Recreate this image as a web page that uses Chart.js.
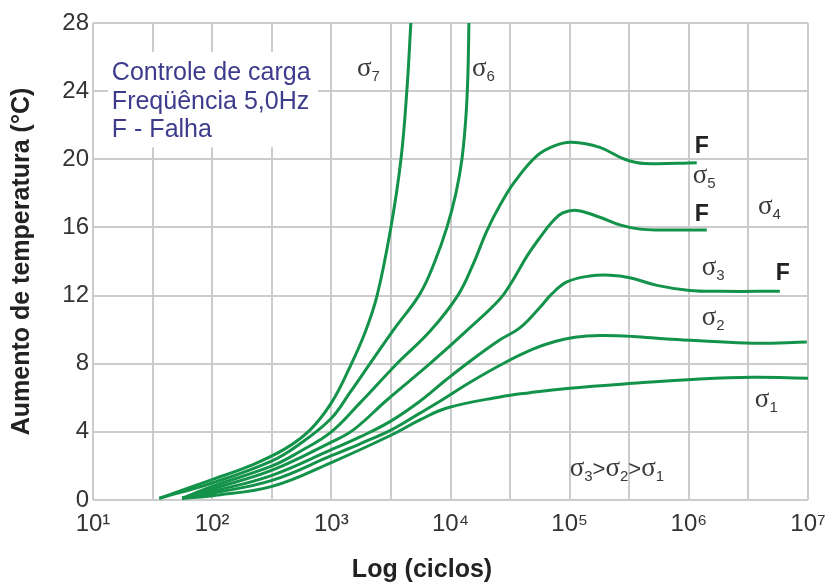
<!DOCTYPE html>
<html>
<head>
<meta charset="utf-8">
<script src="https://cdn.jsdelivr.net/npm/chart.js@4"></script>
<style>
  html, body { margin: 0; padding: 0; background: #fff; }
  #wrap { width: 827px; height: 583px; }
</style>
</head>
<body>
<div id="wrap"><canvas id="chart"></canvas></div>
<script>
// curves: cycles (log axis) vs temperature rise (°C)
const s7Cycles = [36, 100, 207, 408, 661, 1000, 1430, 1910, 2420, 3160, 3840, 4300, 4650];
const s7Temp   = [0.1, 1.2, 2.0, 3.0, 4.1, 5.7, 7.8, 9.8, 12, 16, 20, 24, 28];

const s6Cycles = [36, 100, 318, 546, 1000, 1430, 2110, 3420, 5540, 7390, 9330, 11100, 12470, 13470, 14000, 14270];
const s6Temp   = [0.1, 1.0, 2.3, 3.3, 4.8, 6.3, 8.0, 10.1, 12.1, 14, 16, 18, 20, 22.5, 25, 28];

const s5Cycles = [56, 100, 318, 546, 1000, 1740, 3550, 6720, 11500, 15400, 20200, 26000, 34700, 53000, 75200, 104000, 179000, 290000, 427000, 1166000];
const s5Temp   = [0.1, 0.8, 2.0, 2.85, 4.0, 5.7, 8.0, 9.9, 12, 13.8, 15.8, 17.3, 18.7, 20.2, 20.8, 21.0, 20.7, 20.0, 19.75, 19.8];

const s4Cycles = [56, 100, 318, 1000, 1520, 2930, 6720, 14500, 26000, 32700, 43700, 56200, 70900, 87700, 114800, 179000, 264000, 388000, 571000, 1415000];
const s4Temp   = [0.1, 0.65, 1.75, 3.4, 4.1, 5.87, 8.0, 10.1, 11.8, 12.8, 14.3, 15.4, 16.3, 16.85, 17.0, 16.6, 16.15, 15.9, 15.85, 15.85];

const s3Cycles = [56, 100, 318, 1000, 1740, 3100, 5540, 8980, 13700, 26000, 38200, 56200, 70900, 94800, 147500, 217000, 320000, 540000, 1018000, 1820000, 5800000];
const s3Temp   = [0.1, 0.5, 1.45, 2.95, 3.7, 4.6, 5.8, 7.0, 8.0, 9.4, 10.1, 11.3, 12.1, 12.8, 13.15, 13.2, 13.05, 12.6, 12.3, 12.25, 12.25];

const s2Cycles = [56, 100, 318, 1000, 1740, 3160, 5540, 8150, 14500, 27500, 49100, 75200, 110600, 179000, 339000, 654000, 1236000, 3442000, 9770000];
const s2Temp   = [0.1, 0.4, 1.15, 2.6, 3.3, 4.1, 5.1, 5.8, 6.9, 8.0, 8.85, 9.3, 9.55, 9.65, 9.6, 9.45, 9.35, 9.2, 9.27];

const s1Cycles = [56, 100, 318, 1000, 3160, 5540, 9330, 26000, 46300, 94800, 339000, 1236000, 3442000, 10000000];
const s1Temp   = [0.1, 0.25, 0.8, 2.2, 3.8, 4.7, 5.4, 6.05, 6.3, 6.55, 6.85, 7.1, 7.2, 7.15];

// axes
const xGridCycles = [10, 31.62, 100, 316.2, 1000, 3162, 10000, 31623, 100000, 316228, 1000000, 3162278, 10000000];
const xTickLabels = { 10: '10¹', 100: '10²', 1000: '10³', 10000: '10⁴', 100000: '10⁵', 1000000: '10⁶', 10000000: '10⁷' };
const yMin = 0, yMax = 28, yStep = 4;

// annotations (data coordinates)
const infoLines = ['Controle de carga', 'Freqüência 5,0Hz', 'F - Falha'];
const sigmaNotes = [
  ['7', 1640, 24.9], ['6', 15140, 24.9], ['5', 1080000, 18.6], ['4', 3800000, 16.8],
  ['3', 1285000, 13.2], ['2', 1285000, 10.26], ['1', 3580000, 5.45]
];
const failNotes = [[1120000, 20.35], [1120000, 16.4], [5370000, 12.9]];
const orderNote = { subs: ['3', '2', '1'], x: 100000, y: 1.4 };

const GREEN = '#13934a';
const GRID = '#cccccc';
const SANS = '"Liberation Sans", Arial, sans-serif';
const SERIF = '"Liberation Serif", "Times New Roman", serif';

function series(cycles, temp) {
  return {
    data: cycles.map((c, i) => ({ x: c, y: temp[i] })),
    borderColor: GREEN,
    borderWidth: 3,
    pointRadius: 0,
    fill: false,
    tension: 0.4
  };
}

function drawSigma(ctx, x, y, sub) {
  ctx.font = '27px ' + SERIF;
  ctx.fillText('σ', x, y);
  const w = ctx.measureText('σ').width;
  ctx.font = '15px ' + SANS;
  ctx.fillText(sub, x + w, y + 5);
  return w + ctx.measureText(sub).width;
}

const notesPlugin = {
  id: 'notes',
  beforeDatasetsDraw(chart) {
    const ctx = chart.ctx, xs = chart.scales.x, ys = chart.scales.y;
    const x0 = xs.getPixelForValue(13.4), x1 = xs.getPixelForValue(773);
    const y0 = ys.getPixelForValue(26.3), y1 = ys.getPixelForValue(20.7);
    ctx.save();
    ctx.fillStyle = '#fff';
    ctx.fillRect(x0, y0, x1 - x0, y1 - y0);
    ctx.fillStyle = '#3c3b8c';
    ctx.font = '25px ' + SANS;
    ctx.textBaseline = 'alphabetic';
    const tx = xs.getPixelForValue(14.4), ty = ys.getPixelForValue(24.63);
    infoLines.forEach((t, i) => ctx.fillText(t, tx, ty + i * 28.5));
    ctx.restore();
  },
  afterDatasetsDraw(chart) {
    const ctx = chart.ctx, xs = chart.scales.x, ys = chart.scales.y;
    ctx.save();
    ctx.textBaseline = 'alphabetic';
    ctx.fillStyle = '#3a3a3a';
    sigmaNotes.forEach(([s, c, t]) => drawSigma(ctx, xs.getPixelForValue(c), ys.getPixelForValue(t), s));

    // σ3>σ2>σ1
    let px = xs.getPixelForValue(orderNote.x);
    const py = ys.getPixelForValue(orderNote.y);
    orderNote.subs.forEach((s, i) => {
      px += drawSigma(ctx, px, py, s);
      if (i < orderNote.subs.length - 1) {
        ctx.font = '22px ' + SANS;
        ctx.fillText('>', px, py);
        px += ctx.measureText('>').width;
      }
    });

    ctx.fillStyle = '#222';
    ctx.font = 'bold 23px ' + SANS;
    failNotes.forEach(([c, t]) => ctx.fillText('F', xs.getPixelForValue(c), ys.getPixelForValue(t)));

    // x axis title
    ctx.font = 'bold 25px ' + SANS;
    ctx.textAlign = 'center';
    ctx.fillText('Log (ciclos)', chart.chartArea.left + 329, chart.height - 6);
    ctx.restore();
  }
};

new Chart(document.getElementById('chart'), {
  type: 'line',
  data: {
    datasets: [
      series(s7Cycles, s7Temp), series(s6Cycles, s6Temp), series(s5Cycles, s5Temp),
      series(s4Cycles, s4Temp), series(s3Cycles, s3Temp), series(s2Cycles, s2Temp),
      series(s1Cycles, s1Temp)
    ]
  },
  options: {
    responsive: true,
    maintainAspectRatio: false,
    animation: false,
    devicePixelRatio: 1,
    layout: { padding: { top: 23, right: 19, left: 0, bottom: 0 } },
    plugins: { legend: { display: false }, tooltip: { enabled: false } },
    scales: {
      x: {
        type: 'logarithmic',
        min: 10,
        max: 10000000,
        afterBuildTicks: (scale) => { scale.ticks = xGridCycles.map(v => ({ value: v })); },
        afterFit: (scale) => { scale.height = 83; scale.paddingLeft = 0; scale.paddingRight = 0; },
        grid: { color: GRID, lineWidth: 2, drawTicks: false },
        border: { display: false },
        ticks: {
          autoSkip: false,
          maxRotation: 0,
          padding: 10,
          color: '#333',
          font: { family: SANS, size: 24 },
          callback: (v) => xTickLabels[Math.round(v)] || ''
        }
      },
      y: {
        min: yMin,
        max: yMax,
        afterFit: (scale) => { scale.width = 93; },
        grid: { color: GRID, lineWidth: 2, drawTicks: false },
        border: { display: false },
        ticks: {
          stepSize: yStep,
          padding: 4,
          color: '#333',
          font: { family: SANS, size: 24 }
        },
        title: {
          display: true,
          text: 'Aumento de temperatura (°C)',
          color: '#222',
          font: { family: SANS, size: 25, weight: 'bold' },
          padding: { top: 7, bottom: 0 }
        }
      }
    }
  },
  plugins: [notesPlugin]
});
</script>
</body>
</html>
